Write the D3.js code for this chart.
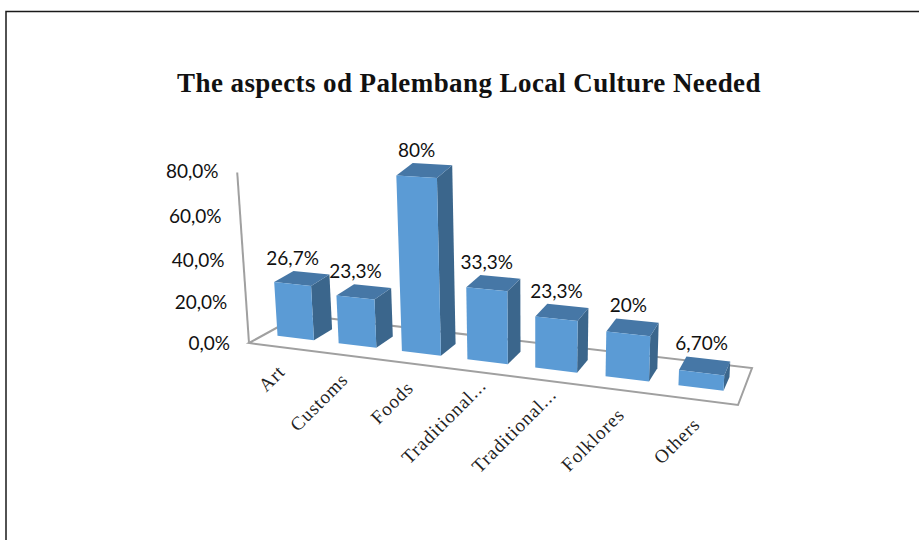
<!DOCTYPE html>
<html><head><meta charset="utf-8">
<script src="https://cdnjs.cloudflare.com/ajax/libs/d3/7.8.5/d3.min.js"></script>
<style>html,body{margin:0;padding:0;background:#fff}svg{display:block}</style>
</head><body><svg id="c" width="919" height="540"></svg>
<script>
const categories=["Art","Customs","Foods","Traditional...","Traditional...","Folklores","Others"];
const values=[26.7,23.3,80,33.3,23.3,20,6.7];
const valueLabels=["26,7%","23,3%","80%","33,3%","23,3%","20%","6,70%"];
const yTicks=[0,20,40,60,80];
const title="The aspects od Palembang Local Culture Needed";

const svg=d3.select("#c");
svg.append("rect").attr("x",6).attr("y",11.5).attr("width",930).attr("height",560)
  .attr("fill","#fff").attr("stroke","#1a1a1a").attr("stroke-width",1.5);

// floor quad: front-left, front-right, back-right, back-left
const Q=[[249,343],[738,405],[752,368],[300,315]];
function makeH(q){
  const [[x0,y0],[x1,y1],[x2,y2],[x3,y3]]=q;
  const sx=x0-x1+x2-x3, sy=y0-y1+y2-y3;
  const dx1=x1-x2, dx2=x3-x2, dy1=y1-y2, dy2=y3-y2;
  const det=dx1*dy2-dx2*dy1;
  const g=(sx*dy2-dx2*sy)/det, h=(dx1*sy-sx*dy1)/det;
  const a=x1-x0+g*x1, b=x3-x0+h*x3, d=y1-y0+g*y1, e=y3-y0+h*y3;
  return (u,v)=>{const w=g*u+h*v+1;return [(a*u+b*v+x0)/w,(d*u+e*v+y0)/w];};
}
const floor=makeH(Q);
const uScale=d3.scaleBand().domain(d3.range(categories.length)).range([-0.002,0.996]).paddingInner(0.40).paddingOuter(0.22);
const vFront=0.30, vBack=0.68;
const yScale=d3.scaleLinear().domain([0,80]).range([0,80]);
function P(u,v,val){
  const [x,y]=floor(u,v);
  const t=yScale(val);
  const k=1.97+0.00072*(x-295);
  const s=k*t*(1+0.0009*t);
  const lean=(x-533)*0.000243;
  return [x+lean*s,y-s];
}
const line=d3.line();
const gray="#a0a0a0";
const gridG=svg.append("g").attr("fill","none").attr("stroke",gray).attr("stroke-width",2);
gridG.append("path").attr("d",line([P(0,1,0),P(1,1,0),P(1,0,0),P(0,0,0),P(0,1,0)]));
gridG.append("path").attr("d",line([P(0,0,0),P(0,0,82)]));

const bars=svg.append("g").selectAll("g").data(values).join("g");
bars.each(function(val,i){
  const g=d3.select(this), u0=uScale(i), u1=u0+uScale.bandwidth();
  const a=P(u0,vFront,val),b=P(u1,vFront,val),c=P(u1,vBack,val),d=P(u0,vBack,val);
  const e=P(u0,vFront,0),f=P(u1,vFront,0),h=P(u1,vBack,0);
  g.append("path").attr("d",line([b,c,h,f])+"Z").attr("fill","#3b668c");
  g.append("path").attr("d",line([a,b,c,d])+"Z").attr("fill","#4677a6");
  g.append("path").attr("d",line([a,b,f,e])+"Z").attr("fill","#5b9bd5");
  g.append("text").attr("x",(a[0]+b[0])/2).attr("y",d[1]-6).attr("text-anchor","middle")
    .attr("font-family","Lato").attr("font-size",19).attr("fill","#111").text(valueLabels[i]);
});
yTicks.forEach(t=>{
  const p=P(0,0,t);
  svg.append("text").attr("x",p[0]-19).attr("y",p[1]+7-0.07*t).attr("text-anchor","end")
    .attr("font-family","Lato").attr("font-size",19).attr("fill","#111").text(d3.format(".1f")(t).replace(".",",")+"%");
});
categories.forEach((c,i)=>{
  const p=floor(uScale(i)+uScale.bandwidth()/2,0);
  const cut=c.endsWith("...");
  svg.append("text").attr("transform",`translate(${p[0]+6+(cut?5:0)},${p[1]+26-(cut?11:0)}) rotate(-45)`).attr("text-anchor","end")
    .attr("font-family","Liberation Serif").attr("font-size",19).attr("letter-spacing",0.9).attr("fill","#222").text(c);
});
svg.append("text").attr("x",469).attr("y",92).attr("text-anchor","middle")
  .attr("font-family","Liberation Serif").attr("font-weight","bold").attr("font-size",27).attr("letter-spacing",0.42).attr("fill","#111").text(title);
</script></body></html>
